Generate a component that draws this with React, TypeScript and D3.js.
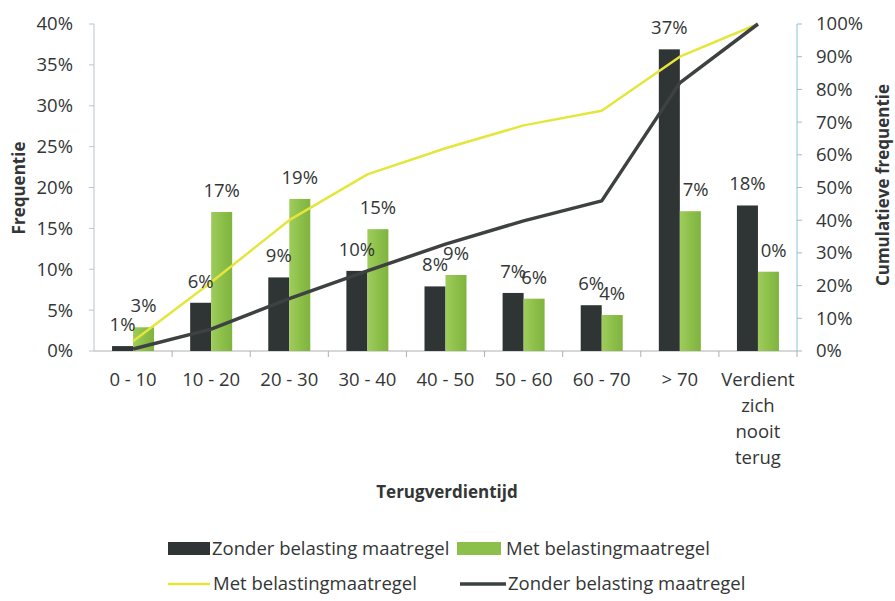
import React from "react";
import * as d3 from "d3";

const categories = ["0 - 10", "10 - 20", "20 - 30", "30 - 40", "40 - 50", "50 - 60", "60 - 70", "> 70", "Verdient zich nooit terug"];
const zonderValues = [0.6, 5.9, 9.0, 9.8, 7.9, 7.1, 5.6, 36.9, 17.8];
const metValues = [2.9, 17.0, 18.6, 14.9, 9.3, 6.4, 4.4, 17.1, 9.7];
const metCumulative = [3, 21, 40, 54, 62, 69, 73.5, 90, 100];
const zonderCumulative = [0.6, 6.7, 16, 24.5, 32.7, 39.8, 45.9, 82, 100];
const leftTicks = [0, 5, 10, 15, 20, 25, 30, 35, 40];
const rightTicks = [0, 10, 20, 30, 40, 50, 60, 70, 80, 90, 100];

const W = 895, H = 601;
const FONT = "'Open Sans', Lato, sans-serif";
const TEXT = "#333636";
const DARK = "#2f3434";
const GREEN = "#8dc04b";
const YELLOW = "#e4e63c";
const DARKLINE = "#3d4142";
const FS = 18.5;
const FT = 17;

export default function App() {
  const x = d3.scaleBand<string>().domain(categories).range([94, 797]).padding(0);
  const yL = d3.scaleLinear().domain([0, 40]).range([351, 24]);
  const yR = d3.scaleLinear().domain([0, 100]).range([351, 24]);
  const bw = 21;
  const cx = (c: string) => (x(c) as number) + x.bandwidth() / 2;
  const lineGen = (vals: number[]) =>
    d3.line<number>().x((_, i) => cx(categories[i])).y((v) => yR(v))(vals) as string;

  return (
    <svg width={W} height={H} style={{ position: "absolute", left: 0, top: 0, background: "#fff" }}
      fontFamily={FONT}>
      <defs>
        <linearGradient id="gr" x1="0" x2="1" y1="0" y2="0">
          <stop offset="0" stopColor="#9fcc5c" />
          <stop offset="0.5" stopColor={GREEN} />
          <stop offset="1" stopColor="#7fb43f" />
        </linearGradient>
      </defs>
      <rect width={W} height={H} fill="#fff" />
      {/* axes */}
      <line x1={94} x2={94} y1={24} y2={351} stroke="#b8c6d0" strokeWidth={1} />
      {leftTicks.map((t) => (
        <g key={"l" + t}>
          <line x1={89} x2={94} y1={yL(t)} y2={yL(t)} stroke="#b8c6d0" />
          <text x={73} y={yL(t)} dy="0.35em" textAnchor="end" fontSize={FS} fill={TEXT}>{t}%</text>
        </g>
      ))}
      <line x1={797} x2={797} y1={24} y2={351} stroke="#8fc0da" strokeWidth={1} />
      {rightTicks.map((t) => (
        <g key={"r" + t}>
          <line x1={797} x2={802} y1={yR(t)} y2={yR(t)} stroke="#8fc0da" />
          <text x={816} y={yR(t)} dy="0.35em" textAnchor="start" fontSize={FS} fill={TEXT}>{t}%</text>
        </g>
      ))}
      <line x1={94} x2={797} y1={351} y2={351} stroke="#b0b0b0" />
      {categories.map((c, i) => (
        <line key={"t" + i} x1={(x(c) as number) + x.bandwidth()} x2={(x(c) as number) + x.bandwidth()} y1={351} y2={357} stroke="#b0b0b0" />
      ))}
      {/* bars */}
      {categories.map((c, i) => (
        <g key={"b" + i}>
          <rect x={cx(c) - bw} y={yL(zonderValues[i])} width={bw} height={yL(0) - yL(zonderValues[i])} fill={DARK} />
          <rect x={cx(c)} y={yL(metValues[i])} width={bw} height={yL(0) - yL(metValues[i])} fill="url(#gr)" />
        </g>
      ))}
      {/* cumulative lines */}
      <path d={lineGen(metCumulative)} fill="none" stroke={YELLOW} strokeWidth={2.5} strokeLinejoin="round" />
      <path d={lineGen(zonderCumulative)} fill="none" stroke={DARKLINE} strokeWidth={3.5} strokeLinejoin="round" />
      {/* data labels */}
      {categories.map((c, i) => (
        <g key={"d" + i} fontSize={FS} fill={TEXT} textAnchor="middle">
          <text x={cx(c) - bw / 2} y={yL(zonderValues[i]) - 15}>{Math.round(zonderValues[i])}%</text>
          <text x={cx(c) + bw / 2} y={yL(metValues[i]) - 15}>{Math.round(metValues[i])}%</text>
        </g>
      ))}
      {/* category labels */}
      {categories.map((c, i) => {
        const lines = i === 8 ? ["Verdient", "zich", "nooit", "terug"] : [c];
        return (
          <text key={"c" + i} x={cx(c)} y={380} textAnchor="middle" fontSize={FS} fill={TEXT}>
            {lines.map((ln, j) => (
              <tspan key={j} x={cx(c)} y={380 + j * 26} dy="0.35em">{ln}</tspan>
            ))}
          </text>
        );
      })}
      {/* axis titles */}
      <text x={447} y={492} dy="0.35em" textAnchor="middle" fontSize={FT} fontWeight="bold" fill={TEXT}>Terugverdientijd</text>
      <text transform="translate(19,188) rotate(-90)" dy="0.35em" textAnchor="middle" fontSize={FT} fontWeight="bold" fill={TEXT}>Frequentie</text>
      <text transform="translate(883,185) rotate(-90)" dy="0.35em" textAnchor="middle" fontSize={FT} fontWeight="bold" fill={TEXT}>Cumulatieve frequentie</text>
      {/* legend */}
      <g fontSize={FS} fill={TEXT}>
        <rect x={168} y={542} width={42} height={13} fill={DARK} />
        <text x={212} y={549} dy="0.35em">Zonder belasting maatregel</text>
        <rect x={457} y={542} width={44} height={13} fill={GREEN} />
        <text x={506} y={549} dy="0.35em">Met belastingmaatregel</text>
        <line x1={168} x2={210} y1={584} y2={584} stroke={YELLOW} strokeWidth={2.5} />
        <text x={213} y={584} dy="0.35em">Met belastingmaatregel</text>
        <line x1={460} x2={506} y1={584} y2={584} stroke={DARKLINE} strokeWidth={3.5} />
        <text x={508} y={584} dy="0.35em">Zonder belasting maatregel</text>
      </g>
    </svg>
  );
}
